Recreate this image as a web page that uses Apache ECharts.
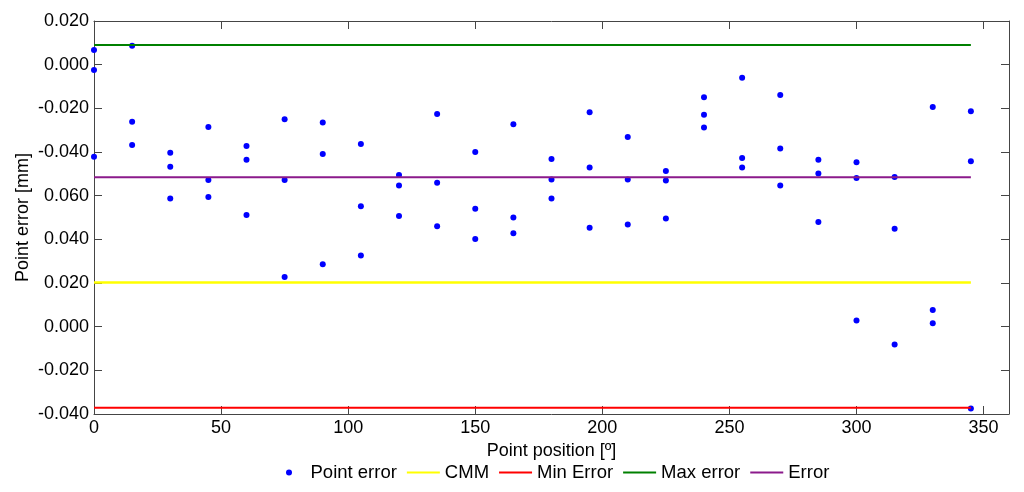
<!DOCTYPE html>
<html>
<head>
<meta charset="utf-8">
<script src="https://cdn.jsdelivr.net/npm/echarts@6/dist/echarts.min.js"></script>
<style>
  html, body { margin: 0; padding: 0; background: #fff; }
  #main { width: 1024px; height: 492px; }
</style>
</head>
<body>
<div id="main"></div>
<script>
// point positions [deg] and the three measured errors at each one
var angles = [0, 15, 30, 45, 60, 75, 90, 105, 120, 135, 150, 165, 180, 195, 210, 225, 240, 255, 270, 285, 300, 315, 330, 345];
var errHigh = [0.1267, 0.1287, 0.0796, 0.0915, 0.0828, 0.0950, 0.0935, 0.0837, 0.0695, 0.0974, 0.0800, 0.0927, 0.0768, 0.0982, 0.0869, 0.0713, 0.1051, 0.1140, 0.1061, 0.0764, 0.0753, 0.0686, 0.1006, 0.0987];
var errMid = [0.1176, 0.0939, 0.0733, 0.0672, 0.0765, 0.0672, 0.0791, 0.0552, 0.0646, 0.0659, 0.0540, 0.0500, 0.0674, 0.0729, 0.0674, 0.0669, 0.0971, 0.0773, 0.0816, 0.0701, 0.0681, 0.0448, 0.0076, 0.0758];
var errLow = [0.0778, 0.0832, 0.0587, 0.0594, 0.0512, 0.0227, 0.0286, 0.0326, 0.0507, 0.0460, 0.0401, 0.0428, 0.0587, 0.0453, 0.0468, 0.0495, 0.0912, 0.0729, 0.0646, 0.0479, 0.0028, -0.0082, 0.0016, -0.0375];

// reference levels
var cmmLevel = 0.0202;
var minErrorLevel = -0.0371;
var maxErrorLevel = 0.1290;
var errorLevel = 0.0684;

// y tick labels as printed on the figure, bottom to top
var yMin = -0.04;
var yMax = 0.14;
var yStep = 0.02;
var yTickLabels = ["-0.040", "-0.020", "0.000", "0.020", "0.040", "0.060", "-0.040", "-0.020", "0.000", "0.020"];

var xMin = 0;
var xMax = 360;
var xStep = 50;

var font = "Liberation Sans, Arial, sans-serif";
var axisColor = "#454545";

var points = [];
for (var i = 0; i < angles.length; i++) {
  points.push([angles[i], errHigh[i]]);
  points.push([angles[i], errMid[i]]);
  points.push([angles[i], errLow[i]]);
}

function levelLine(v) {
  return [[angles[0], v], [angles[angles.length - 1], v]];
}

function yLabel(v) {
  var idx = Math.round((v - yMin) / yStep);
  return yTickLabels[idx] !== undefined ? yTickLabels[idx] : "";
}

var myChart = echarts.init(document.getElementById("main"));

var boxAxis = {
  axisLine: { show: true, onZero: false, lineStyle: { color: axisColor, width: 1 } },
  axisTick: { show: true, inside: true, length: 8, lineStyle: { color: axisColor } },
  splitLine: { show: false },
};

// legend line items: hide the little marker the line legend draws
var noMarker = { color: "rgba(0,0,0,0)", borderWidth: 0 };

var option = {
  animation: false,
  backgroundColor: "#fff",
  grid: { left: 94, right: 15, top: 21, bottom: 78 },
  legend: {
    left: 281,
    top: 458,
    itemWidth: 33,
    itemHeight: 6,
    itemGap: 9,
    textStyle: { fontSize: 18.5, color: "#000", fontFamily: font },
    data: [
      { name: "Point error" },
      { name: "CMM", itemStyle: noMarker },
      { name: "Min Error", itemStyle: noMarker },
      { name: "Max error", itemStyle: noMarker },
      { name: "Error", itemStyle: noMarker },
    ],
  },
  xAxis: [
    Object.assign({}, boxAxis, {
      type: "value",
      min: xMin,
      max: xMax,
      interval: xStep,
      name: "Point position [º]",
      nameLocation: "middle",
      nameGap: 26,
      nameTextStyle: { fontSize: 18, color: "#000", fontFamily: font },
      axisLabel: { showMaxLabel: false, margin: 5, fontSize: 18, color: "#000", fontFamily: font },
    }),
    Object.assign({}, boxAxis, {
      type: "value",
      position: "top",
      min: xMin,
      max: xMax,
      interval: xStep,
      axisLabel: { show: false },
    }),
  ],
  yAxis: [
    Object.assign({}, boxAxis, {
      type: "value",
      min: yMin,
      max: yMax,
      interval: yStep,
      name: "Point error [mm]",
      nameLocation: "middle",
      nameGap: 62,
      nameMoveOverlap: false,
      nameTextStyle: { fontSize: 18, color: "#000", fontFamily: font },
      axisLabel: { margin: 5, fontSize: 18, color: "#000", fontFamily: font, formatter: yLabel },
    }),
    Object.assign({}, boxAxis, {
      type: "value",
      position: "right",
      min: yMin,
      max: yMax,
      interval: yStep,
      axisLabel: { show: false },
    }),
  ],
  series: [
    {
      name: "Point error",
      type: "scatter",
      data: points,
      symbol: "circle",
      symbolSize: 6,
      itemStyle: { color: "#0000FF", opacity: 1 },
    },
    {
      name: "CMM",
      type: "line",
      data: levelLine(cmmLevel),
      symbol: "none",
      lineStyle: { color: "#FFFF00", width: 2.5 },
      itemStyle: { color: "#FFFF00" },
    },
    {
      name: "Min Error",
      type: "line",
      data: levelLine(minErrorLevel),
      symbol: "none",
      lineStyle: { color: "#FF0000", width: 2 },
      itemStyle: { color: "#FF0000" },
    },
    {
      name: "Max error",
      type: "line",
      data: levelLine(maxErrorLevel),
      symbol: "none",
      lineStyle: { color: "#008000", width: 2 },
      itemStyle: { color: "#008000" },
    },
    {
      name: "Error",
      type: "line",
      data: levelLine(errorLevel),
      symbol: "none",
      lineStyle: { color: "#8B1A8B", width: 2 },
      itemStyle: { color: "#8B1A8B" },
    },
  ],
};

myChart.setOption(option);
</script>
</body>
</html>
